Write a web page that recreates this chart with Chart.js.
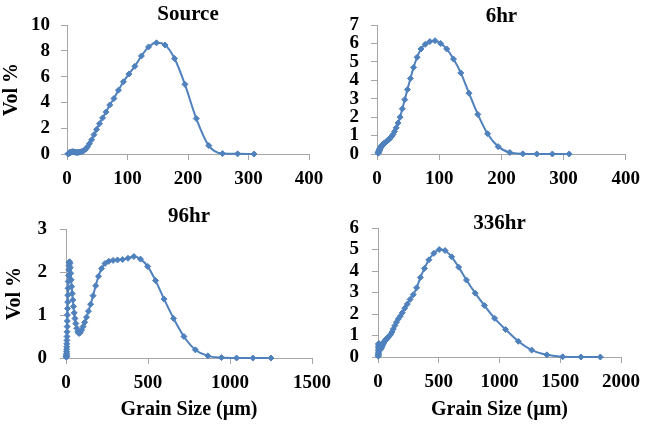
<!DOCTYPE html>
<html>
<head>
<meta charset="utf-8">
<script src="https://cdn.jsdelivr.net/npm/chart.js@4.4.0/dist/chart.umd.min.js"></script>
<style>
    body { margin: 0; background: #fff; }
    #main { position: relative; width: 648px; height: 424px; overflow: hidden; background: #fff; }
    #main canvas { position: absolute; }
</style>
</head>
<body>
<div id="main">
    <canvas id="chartSource" width="340" height="200" style="left:0;top:0"></canvas>
    <canvas id="chart6hr" width="328" height="200" style="left:320px;top:0"></canvas>
    <canvas id="chart96hr" width="340" height="224" style="left:0;top:200px"></canvas>
    <canvas id="chart336hr" width="328" height="224" style="left:320px;top:200px"></canvas>
</div>
<script>
var panelTitles = ['Source', '6hr', '96hr', '336hr'];
var yTitle = 'Vol %';
var xTitle = 'Grain Size (µm)';

// grain size bins (µm)
var topSize = [1.9, 2.1, 2.3, 2.6, 2.8, 3.1, 3.4, 3.7, 4.1, 4.5, 4.9, 5.4, 5.9, 6.4, 7.1, 7.7, 8.5, 9.3, 10.2, 11.2,
    12.3, 13.5, 14.8, 16.2, 17.8, 19.5, 21.3, 23.4, 25.7, 28.2, 30.9, 33.8, 37.1, 40.7, 44.6, 48.9, 53.7, 58.8, 64.5, 70.7,
    77.6, 85, 93.3, 102.3, 112.1, 123, 134.8, 147.9, 162.1, 177.8, 194.9, 213.7, 234.4, 257, 282, 309];

var sourceVol = [0.02, 0.03, 0.03, 0.04, 0.05, 0.06, 0.07, 0.08, 0.09, 0.1, 0.11, 0.12, 0.13, 0.14, 0.15, 0.16, 0.17, 0.17, 0.17, 0.16,
    0.15, 0.14, 0.13, 0.12, 0.12, 0.13, 0.15, 0.18, 0.22, 0.28, 0.38, 0.55, 0.8, 1.1, 1.5, 1.9, 2.35, 2.8, 3.25, 3.8,
    4.3, 4.95, 5.6, 6.2, 6.8, 7.6, 8.3, 8.62, 8.45, 7.4, 5.4, 2.75, 0.65, 0.03, 0.01, 0];

var hr6Vol = [0.04, 0.06, 0.08, 0.1, 0.12, 0.15, 0.18, 0.21, 0.24, 0.27, 0.3, 0.33, 0.36, 0.39, 0.42, 0.45, 0.48, 0.51, 0.54, 0.57,
    0.6, 0.63, 0.67, 0.71, 0.75, 0.8, 0.87, 0.95, 1.06, 1.22, 1.42, 1.68, 2.0, 2.45, 2.95, 3.5, 4.1, 4.7, 5.25, 5.7,
    5.95, 6.1, 6.15, 6.0, 5.7, 5.15, 4.4, 3.3, 2.15, 1.1, 0.4, 0.08, 0.01, 0, 0, 0];

var hr96Size = [2.2, 2.4, 2.6, 2.8, 3.1, 3.4, 3.8, 4.1, 4.5, 5, 5.5, 6, 6.6, 7.2, 7.9, 8.7, 9.5, 10.4, 11.4, 12.5,
    13.7, 15, 16.5, 18.1, 19.8, 21.7, 23.8, 26.1, 28.7, 31.4, 34.5, 37.8, 41.4, 45.4, 49.8, 54.6, 59.9, 65.7, 72, 79,
    86.6, 95, 104, 114, 125, 137, 150, 165, 181, 198, 217, 238, 261, 287, 314, 345, 378, 414, 454, 498,
    546, 598, 656, 719, 789, 865, 948, 1040, 1140, 1250];
var hr96Vol = [0.02, 0.03, 0.04, 0.06, 0.08, 0.11, 0.15, 0.2, 0.26, 0.33, 0.41, 0.5, 0.61, 0.73, 0.86, 1.0, 1.15, 1.3, 1.46, 1.62,
    1.78, 1.92, 2.05, 2.15, 2.22, 2.24, 2.2, 2.1, 1.97, 1.82, 1.66, 1.5, 1.35, 1.2, 1.05, 0.92, 0.8, 0.69, 0.61, 0.57,
    0.59, 0.65, 0.73, 0.83, 0.95, 1.09, 1.25, 1.45, 1.68, 1.9, 2.08, 2.2, 2.25, 2.27, 2.28, 2.29, 2.32, 2.36, 2.3, 2.13,
    1.8, 1.37, 0.92, 0.5, 0.19, 0.05, 0.01, 0, 0, 0];

var hr336Size = [2.6, 2.9, 3.2, 3.5, 3.8, 4.2, 4.6, 5, 5.5, 6, 6.6, 7.3, 8, 8.8, 9.6, 10.5, 11.5, 12.7, 13.9, 15.2,
    16.7, 18.3, 20, 22, 24.1, 26.4, 28.9, 31.7, 34.8, 38.2, 41.9, 45.9, 50.3, 55.2, 60.5, 66.4, 72.8, 79.8, 87.5, 96,
    105, 115, 126, 139, 152, 167, 183, 200, 220, 241, 264, 290, 318, 349, 382, 419, 460, 504, 552, 606,
    664, 728, 800, 875, 960, 1050, 1155, 1265, 1390, 1520, 1670, 1830];
var hr336Vol = [0.04, 0.07, 0.11, 0.16, 0.22, 0.29, 0.36, 0.43, 0.5, 0.56, 0.6, 0.62, 0.62, 0.6, 0.57, 0.54, 0.5, 0.46, 0.43, 0.4,
    0.38, 0.37, 0.37, 0.38, 0.4, 0.43, 0.46, 0.5, 0.54, 0.58, 0.62, 0.66, 0.7, 0.74, 0.78, 0.82, 0.86, 0.9, 0.95, 1.0,
    1.06, 1.16, 1.3, 1.46, 1.62, 1.77, 1.9, 2.06, 2.27, 2.46, 2.68, 2.9, 3.22, 3.7, 4.12, 4.52, 4.82, 5.0, 4.95, 4.66,
    4.18, 3.58, 2.97, 2.4, 1.8, 1.28, 0.73, 0.32, 0.1, 0.01, 0, 0];

var blue = '#4F81BD';
var axisGray = '#a6a6a6';
var serif = '"Liberation Serif", "Times New Roman", serif';
var tickFont = {family: serif, size: 19, weight: 'bold'};
var titleFont = {family: serif, size: 21, weight: 'bold'};
var axisTitleFont = {family: serif, size: 20, weight: 'bold'};

function toPoints(xs, ys) {
    var pts = [];
    for (var i = 0; i < xs.length; i++) {
        pts.push({x: xs[i], y: ys[i]});
    }
    return pts;
}

function plainNumber(value) {
    return String(value);
}

function drawPanel(p) {
    var ctx = document.getElementById(p.id);
    return new Chart(ctx, {
        type: 'line',
        data: {
            datasets: [{
                data: toPoints(p.size, p.vol),
                borderColor: blue,
                backgroundColor: blue,
                borderWidth: 2,
                pointStyle: 'rectRot',
                pointRadius: 3,
                pointBorderWidth: 1,
                cubicInterpolationMode: 'monotone',
                clip: false
            }]
        },
        options: {
            responsive: false,
            animation: false,
            devicePixelRatio: 1,
            layout: {padding: {left: 0, top: 0, bottom: 0, right: p.padRight}},
            plugins: {
                legend: {display: false},
                tooltip: {enabled: false},
                title: {
                    display: true, text: p.title, fullSize: false, color: '#000', font: titleFont,
                    padding: {top: p.titleTop, bottom: p.titleBottom}
                }
            },
            scales: {
                x: {
                    type: 'linear', min: 0, max: p.xMax,
                    ticks: {stepSize: p.xStep, padding: 8, color: '#000', font: tickFont, maxRotation: 0,
                        autoSkip: false, callback: plainNumber},
                    grid: {drawOnChartArea: false, tickLength: 6, color: axisGray},
                    border: {color: axisGray},
                    title: {display: p.showX, text: xTitle, color: '#000', font: axisTitleFont, padding: {top: 0, bottom: 2}},
                    afterFit: function (s) { s.height = p.xHeight; }
                },
                y: {
                    min: 0, max: p.yMax,
                    ticks: {stepSize: p.yStep, padding: p.yPad, color: '#000', font: tickFont, autoSkip: false, callback: plainNumber},
                    grid: {drawOnChartArea: false, tickLength: 6, color: axisGray},
                    border: {color: axisGray},
                    title: {display: p.showY, text: yTitle, color: '#000', font: axisTitleFont, padding: {top: p.yTitlePad, bottom: 0}},
                    afterFit: function (s) { s.width = p.yWidth; }
                }
            }
        }
    });
}

var panels = [
    {id: 'chartSource', title: panelTitles[0], size: topSize, vol: sourceVol, xMax: 400, xStep: 100, yMax: 10, yStep: 2,
        padRight: 31, yWidth: 67, xHeight: 46, yPad: 11, titleTop: 2.4, titleBottom: -2.6, showX: false, showY: true, yTitlePad: 0},
    {id: 'chart6hr', title: panelTitles[1], size: topSize, vol: hr6Vol, xMax: 400, xStep: 100, yMax: 7, yStep: 1,
        padRight: 20, yWidth: 57, xHeight: 46, yPad: 12, titleTop: 4.4, titleBottom: -4.6, showX: false, showY: false, yTitlePad: 0},
    {id: 'chart96hr', title: panelTitles[2], size: hr96Size, vol: hr96Vol, xMax: 1500, xStep: 500, yMax: 3, yStep: 1,
        padRight: 28, yWidth: 66, xHeight: 66, yPad: 13, titleTop: 4.4, titleBottom: -0.6, showX: true, showY: true, yTitlePad: 3},
    {id: 'chart336hr', title: panelTitles[3], size: hr336Size, vol: hr336Vol, xMax: 2000, xStep: 500, yMax: 6, yStep: 1,
        padRight: 25, yWidth: 58, xHeight: 67, yPad: 13, titleTop: 11.4, titleBottom: -8.6, showX: true, showY: false, yTitlePad: 0}
];

panels.forEach(function (p) {
    drawPanel(p);
});
</script>
</body>
</html>
